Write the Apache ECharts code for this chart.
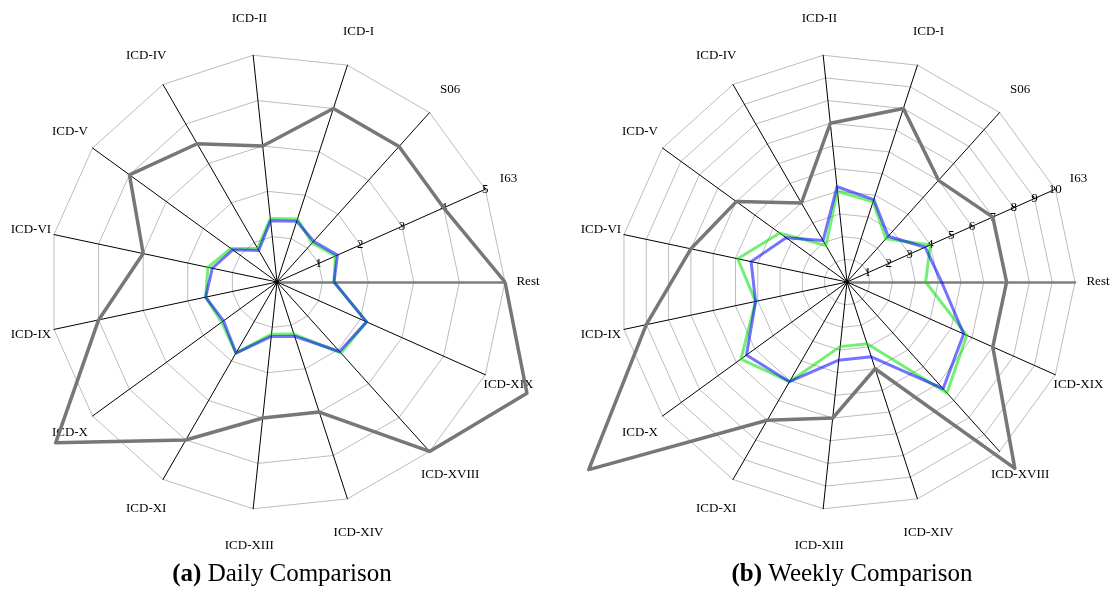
<!DOCTYPE html>
<html>
<head>
<meta charset="utf-8">
<script src="https://cdn.jsdelivr.net/npm/echarts@6/dist/echarts.min.js"></script>
<style>
  html, body { margin: 0; padding: 0; background: #fff; }
</style>
</head>
<body>
<div id="chart" style="width: 1113px; height: 605px;"></div>
<script>
// categories, counter-clockwise starting from the right
const categories = ['Rest', 'I63', 'S06', 'ICD-I', 'ICD-II', 'ICD-IV', 'ICD-V', 'ICD-VI',
  'ICD-IX', 'ICD-X', 'ICD-XI', 'ICD-XIII', 'ICD-XIV', 'ICD-XVIII', 'ICD-XIX'];

// (a) daily
const dailyMax = 5;
const dailyGray = [5, 4, 4, 4, 3, 3.5, 4, 3, 4, 6, 4, 3, 3, 5, 6];
const dailyGreen = [1.25, 1.4, 1.15, 1.45, 1.4, 0.85, 1.25, 1.55, 1.6, 1.5, 1.8, 1.15, 1.2, 2.1, 2.15];
const dailyBlue = [1.25, 1.45, 1.2, 1.4, 1.35, 0.8, 1.2, 1.45, 1.6, 1.45, 1.8, 1.2, 1.25, 2.05, 2.15];

// (b) weekly
const weeklyMax = 10;
const weeklyGray = [7, 7, 6, 8, 7, 4, 6, 7, 9, 14, 7, 6, 4, 11, 7];
const weeklyGreen = [3.45, 4, 2.55, 3.7, 4, 1.85, 3.65, 4.9, 4.1, 5.75, 5.05, 2.85, 2.85, 6.55, 5.75];
const weeklyBlue = [4.15, 3.75, 2.7, 3.8, 4.2, 2.1, 3.3, 4.3, 4.1, 5.45, 5.05, 3.45, 3.45, 6.3, 5.6];

const captions = ['{b|(a)} Daily Comparison', '{b|(b)} Weekly Comparison'];

const serif = 'Liberation Serif';
const R = 228;

function indicators(max) {
  const n = categories.length;
  return categories.map((name, i) => {
    // labels sit a bit further out at top/bottom than at the sides
    const a = i * 2 * Math.PI / n;
    const L = Math.sqrt(Math.pow(251 * Math.cos(a), 2) + Math.pow(265 * Math.sin(a), 2));
    const ind = { name: name, max: max, min: 0, nameGap: L - R };
    if (name === 'Rest') {
      ind.axisLine = { lineStyle: { color: '#7f7f7f', width: 2.5 } };
    }
    if (name === 'I63') {
      ind.axisLabel = { show: true };
      ind.axisTick = { show: true };
    }
    return ind;
  });
}

function radarOpt(center, max) {
  return {
    center: center,
    radius: R,
    startAngle: 0,
    shape: 'polygon',
    splitNumber: max,
    indicator: indicators(max),
    axisName: { color: '#000', fontFamily: serif, fontSize: 13, align: 'center', verticalAlign: 'middle' },
    axisLine: { lineStyle: { color: '#000', width: 1 } },
    splitLine: { lineStyle: { color: '#bdbdbd', width: 1 } },
    splitArea: { show: false },
    axisTick: { show: false, length: 3, lineStyle: { color: '#000' } },
    axisLabel: {
      show: false, showMinLabel: false, color: '#000', fontFamily: serif, fontSize: 13,
      margin: 0, align: 'center', verticalAlign: 'middle'
    }
  };
}

function lines(radarIndex, gray, green, blue) {
  const mk = (vals, color, width) => ({
    type: 'radar',
    radarIndex: radarIndex,
    symbol: 'none',
    silent: true,
    lineStyle: { color: color, width: width },
    data: [{ value: vals }]
  });
  return [
    mk(green, 'rgba(0,225,0,0.55)', 3),
    mk(blue, 'rgba(0,0,255,0.55)', 3),
    mk(gray, '#777777', 3.5)
  ];
}

const myChart = echarts.init(document.getElementById('chart'));
const option = {
  animation: false,
  backgroundColor: '#fff',
  title: captions.map((t, i) => ({
    text: t,
    left: i === 0 ? 277 : 847,
    top: 557,
    textAlign: 'center',
    textStyle: {
      fontFamily: serif,
      fontSize: 25,
      fontWeight: 'normal',
      color: '#000',
      rich: { b: { fontFamily: serif, fontSize: 25, fontWeight: 'bold', color: '#000' } }
    }
  })),
  radar: [radarOpt([277, 282], dailyMax), radarOpt([847, 282], weeklyMax)],
  series: [].concat(
    lines(0, dailyGray, dailyGreen, dailyBlue),
    lines(1, weeklyGray, weeklyGreen, weeklyBlue)
  )
};
myChart.setOption(option);
</script>
</body>
</html>
